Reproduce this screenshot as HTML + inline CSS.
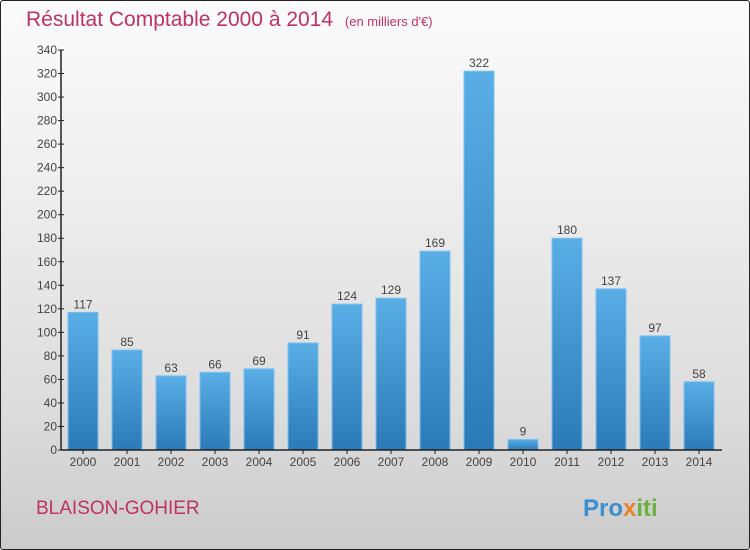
<!DOCTYPE html>
<html><head><meta charset="utf-8"><style>
body{margin:0;width:750px;height:550px;overflow:hidden;font-family:"Liberation Sans",sans-serif}
#frame{position:absolute;left:0;top:0;width:748px;height:548px;border:1px solid #222;border-radius:3px;background:linear-gradient(#fbfbfb,#f0f0f0 30%,#dcdcdc 75%,#cbcbcb)}
</style></head><body>
<div id="frame"></div>
<svg id="c" width="750" height="550" style="position:absolute;left:0;top:0">
<defs><linearGradient id="g" x1="0" y1="0" x2="0" y2="1"><stop offset="0" stop-color="#5aaee6"/><stop offset="1" stop-color="#2a7ab8"/></linearGradient></defs>
<text x="26" y="26" font-size="21" fill="#c0325f">Résultat Comptable 2000 à 2014 <tspan font-size="13" dx="6">(en milliers d'€)</tspan></text>
<text x="36" y="514" font-size="19" fill="#c0325f">BLAISON-GOHIER</text>
<text x="583" y="516" font-size="24" font-weight="bold" fill="#3a8fd0">Pro<tspan fill="#e9842a">x</tspan><tspan fill="#6cb33e">iti</tspan></text>
</svg>
<script>
const categories=["2000","2001","2002","2003","2004","2005","2006","2007","2008","2009","2010","2011","2012","2013","2014"];
const values=[117,85,63,66,69,91,124,129,169,322,9,180,137,97,58];
const yTicks=[0,20,40,60,80,100,120,140,160,180,200,220,240,260,280,300,320,340];
const svg=document.getElementById('c');const NS='http://www.w3.org/2000/svg';
const y0=450,yTop=50,yMax=340,x0=61,step=44,first=83,bw=30;
const y=v=>y0-(v/yMax)*(y0-yTop);const x=i=>first+i*step;
function mk(t,a){const e=document.createElementNS(NS,t);for(const k in a)e.setAttribute(k,a[k]);svg.appendChild(e);return e;}
yTicks.forEach(t=>{
const l=mk('line',{x1:x0-3,x2:x0+3,y1:y(t),y2:y(t),stroke:'#222'});


const tx=mk('text',{x:x0-4,y:y(t)+4,'font-size':12,'text-anchor':'end',fill:'#444'});tx.textContent=t;


});
values.forEach((v,i)=>{
const r=mk('rect',{x:x(i)-bw/2,y:y(v),width:bw,height:y0-y(v),fill:'url(#g)',stroke:'#7fc0ee','stroke-width':1});


const vt=mk('text',{x:x(i),y:y(v)-4,'font-size':12,'text-anchor':'middle',fill:'#444'});vt.textContent=v;


const tk=mk('line',{x1:x(i),x2:x(i),y1:y0,y2:y0+4,stroke:'#222'});


const ct=mk('text',{x:x(i),y:y0+16,'font-size':12,'text-anchor':'middle',fill:'#444'});ct.textContent=categories[i];


});
const ya=mk('line',{x1:x0,x2:x0,y1:yTop,y2:y0,stroke:'#222','stroke-width':1.5});


const xa=mk('line',{x1:x0,x2:722,y1:y0,y2:y0,stroke:'#222','stroke-width':1.5});


</script>
</body></html>
